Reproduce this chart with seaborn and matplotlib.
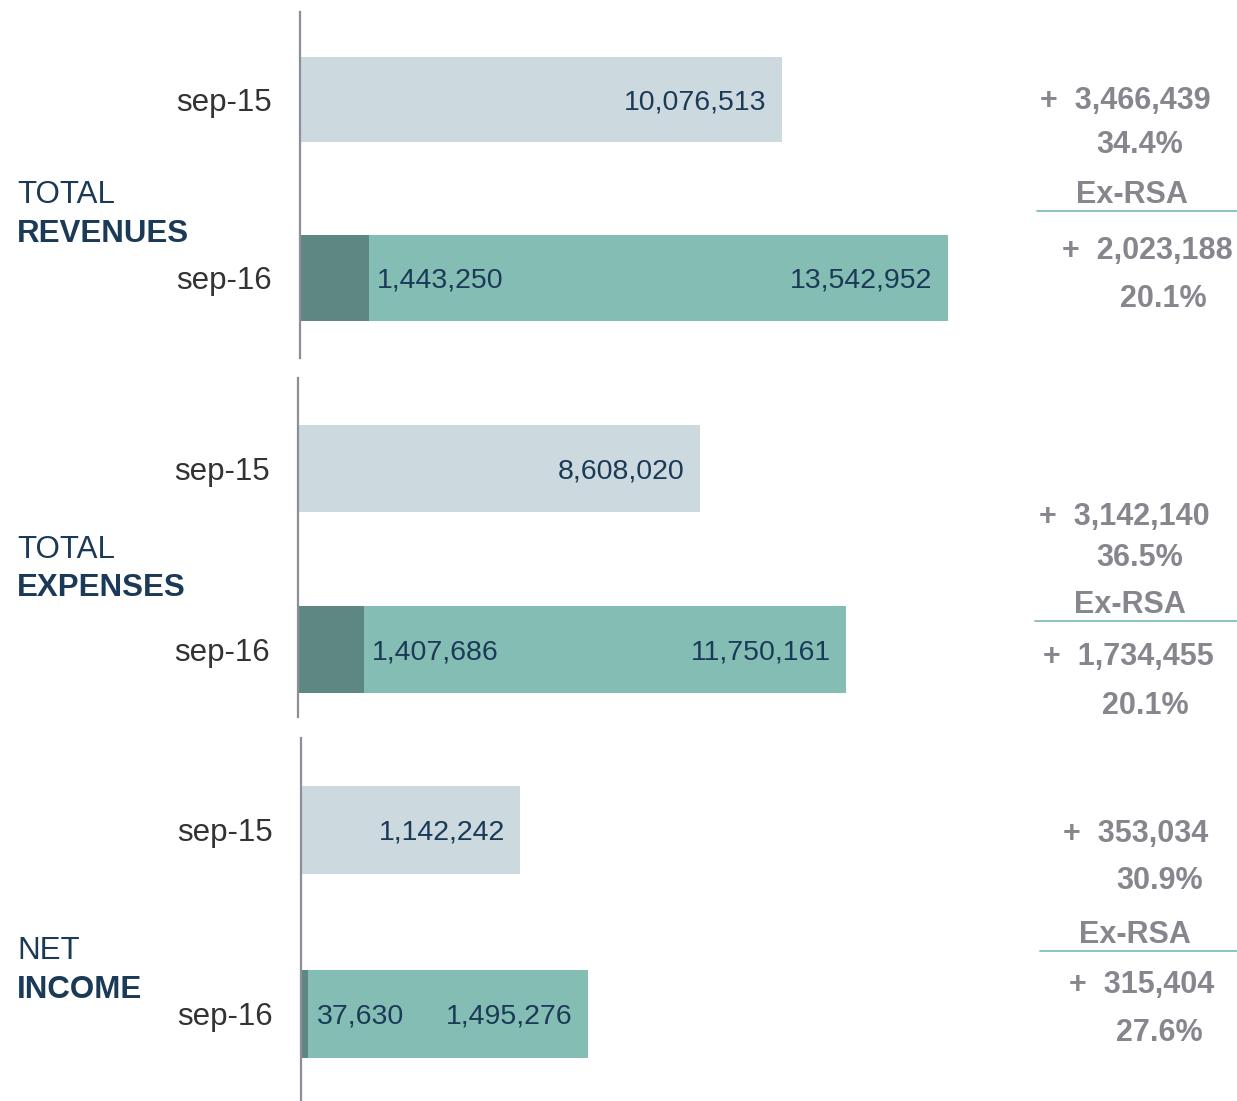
import pandas as pd
import seaborn as sns
import matplotlib.pyplot as plt

# data
periods = ['sep-15', 'sep-16']
panel_titles = [('TOTAL', 'REVENUES'), ('TOTAL', 'EXPENSES'), ('NET', 'INCOME')]
totals = [[10076513, 13542952], [8608020, 11750161], [1142242, 1495276]]
rsa = [[0, 1443250], [0, 1407686], [0, 37630]]
change_abs = [3466439, 3142140, 353034]
change_pct = [34.4, 36.5, 30.9]
exrsa_abs = [2023188, 1734455, 315404]
exrsa_pct = [20.1, 20.1, 27.6]

LIGHT = '#ccdae0'
TEAL = '#84bdb4'
DARK = '#5f8782'
NAVY = '#1b3a57'
GREY = '#86868e'
W, H = 1237, 1101

sns.set_style('white')
plt.rcParams['font.family'] = ['Liberation Sans', 'DejaVu Sans']

fig = plt.figure(figsize=(W / 100, H / 100), dpi=100)

# panel layout in pixels: (left, top, bottom), xlim, ylim
panels = [
  dict(left=300, top=12, bottom=358, xmax=14.64e6, ylim=(1.45, -0.49)),
  dict(left=298, top=378, bottom=717, xmax=15.0e6, ylim=(1.373, -0.5)),
  dict(left=301, top=738, bottom=1100, xmax=3.65e6, ylim=(1.47, -0.5)),
]
title_y = [(193, 232), (548, 586), (949, 988)]
right_y = [(99, 143, 193, 211, 249, 297), (515, 556, 603, 621, 655, 704),
           (832, 879, 933, 951, 983, 1031)]
right_x = [(1125, 1140, 1132, 1037, 1147, 1163), (1124, 1140, 1130, 1035, 1128, 1145),
           (1136, 1160, 1135, 1040, 1142, 1159)]

def ftext(x, y, s, **kw):
  # pixel coords from the top-left; +2px nudges digits onto the visual centre
  fig.text(x / W, 1 - (y + 2) / H, s, **kw)

for i, p in enumerate(panels):
  ax = fig.add_axes([p['left'] / W, 1 - p['bottom'] / H, 700 / W,
                     (p['bottom'] - p['top']) / H])
  df = pd.DataFrame(dict(period=periods, total=totals[i], rsa=rsa[i]))
  sns.barplot(data=df, x='total', y='period', hue='period', palette=[LIGHT, TEAL],
              width=0.48, legend=False, ax=ax, orient='h', saturation=1, linewidth=0)
  sns.barplot(data=df, x='rsa', y='period', color=DARK, width=0.48, ax=ax,
              orient='h', saturation=1, linewidth=0)
  ax.set_xlim(0, p['xmax'])
  ax.set_ylim(*p['ylim'])
  ax.set_xlabel('')
  ax.set_ylabel('')
  ax.set_xticks([])
  for s in ['top', 'right', 'bottom']:
    ax.spines[s].set_visible(False)
  ax.spines['left'].set_color('#8e8e9a')
  ax.spines['left'].set_linewidth(1.6)
  ax.tick_params(axis='y', length=0, pad=20, labelsize=22.5, labelcolor='#333333')

  # value labels
  for j in range(2):
    ax.annotate(f'{totals[i][j]:,}', (totals[i][j], j), xytext=(-11, -2),
                textcoords='offset points', ha='right', va='center',
                fontsize=20.5, color=NAVY)
    if rsa[i][j]:
      ax.annotate(f'{rsa[i][j]:,}', (rsa[i][j], j), xytext=(6, -2),
                  textcoords='offset points', ha='left', va='center',
                  fontsize=20.5, color=NAVY)

  # left title
  ftext(17, title_y[i][0], panel_titles[i][0], fontsize=22.5,
        color=NAVY, va='center', ha='left')
  ftext(17, title_y[i][1], panel_titles[i][1], fontsize=22.5,
        color=NAVY, va='center', ha='left', fontweight='bold')

  # right side change notes
  ry, rx = right_y[i], right_x[i]
  kw = dict(fontsize=22, color=GREY, fontweight='bold', ha='center', va='center')
  ftext(rx[0], ry[0], f'+  {change_abs[i]:,}', **kw)
  ftext(rx[1], ry[1], f'{change_pct[i]:.1f}%', **kw)
  ftext(rx[2], ry[2], 'Ex-RSA', **kw)
  fig.add_artist(plt.Line2D([rx[3] / W, 1], [1 - ry[3] / H] * 2, color=TEAL, lw=1.3))
  ftext(rx[4], ry[4], f'+  {exrsa_abs[i]:,}', **kw)
  ftext(rx[5], ry[5], f'{exrsa_pct[i]:.1f}%', **kw)

fig.savefig('out.png', dpi=100)
